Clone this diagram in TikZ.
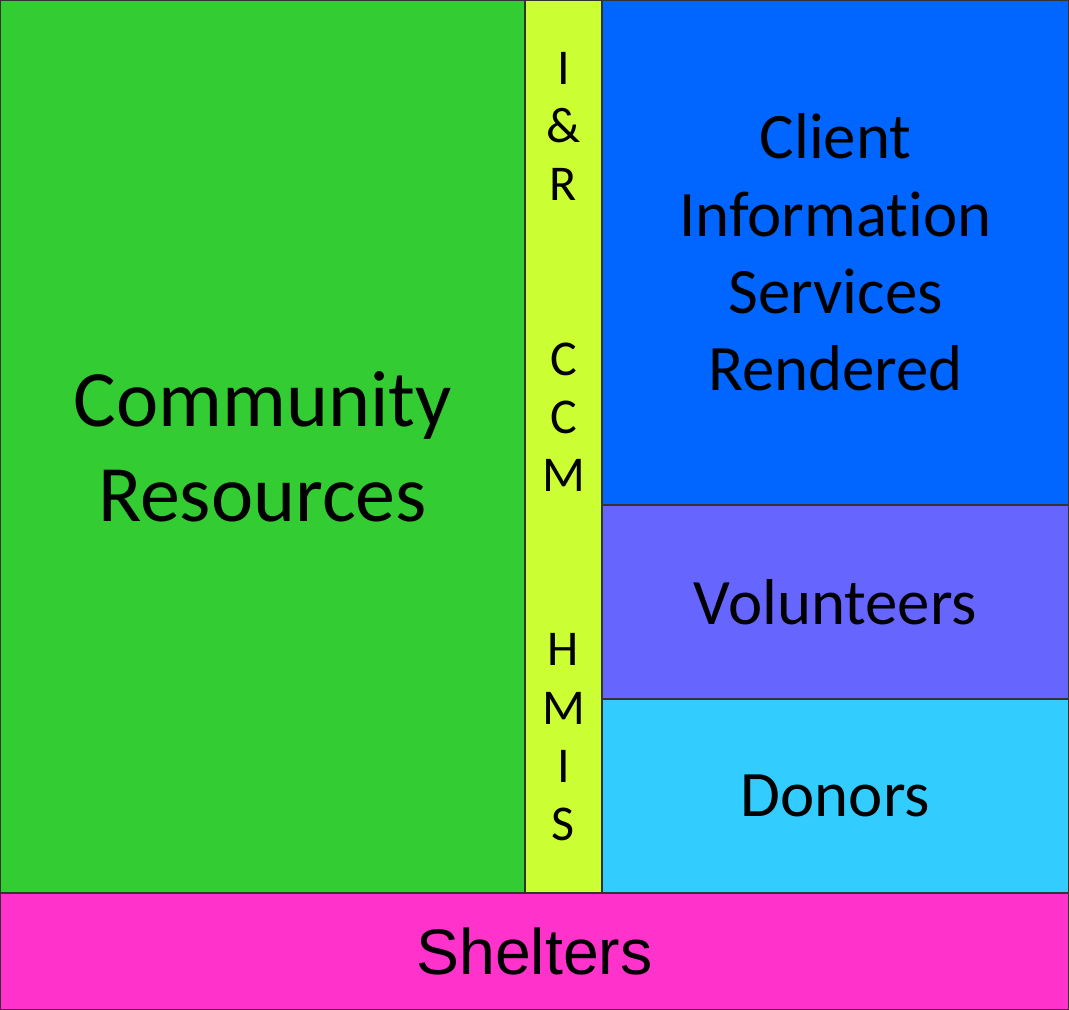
\documentclass[tikz,border=0pt]{standalone}
\usepackage{fontspec}
\setmainfont[Ligatures=NoCommon]{Carlito}
\newfontfamily\arialfont{Liberation Sans}

\definecolor{commgreen}{HTML}{33CC33}
\definecolor{striplime}{HTML}{CCFF33}
\definecolor{clientblue}{HTML}{0066FF}
\definecolor{volpurple}{HTML}{6666FF}
\definecolor{donorcyan}{HTML}{33CCFF}
\definecolor{shelterpink}{HTML}{FF33CC}

\tikzset{
  block/.style={draw=black!80, line width=0.6pt, inner sep=0pt, outer sep=0pt,
    align=center, text=black},
  bigtext/.style={font=\fontsize{45.5pt}{54pt}\selectfont},
  midtext/.style={font=\fontsize{36.9pt}{44pt}\selectfont},
  striptext/.style={font=\fontsize{28.5pt}{33.1pt}\selectfont}
}

\begin{document}
\begin{tikzpicture}
  \useasboundingbox (0,0) rectangle (21.38,-20.2);

  % left column
  \node[block, bigtext, fill=commgreen, minimum width=10.5cm, minimum height=17.86cm,
    anchor=north west] (community) at (0,0) {Community\\Resources};

  % thin strip
  \node[block, striptext, fill=striplime, minimum width=1.54cm, minimum height=17.86cm,
    anchor=north west] (strip) at (community.north east)
    {I\\\&\\R\\\mbox{}\\\mbox{}\\C\\C\\M\\\mbox{}\\\mbox{}\\H\\M\\I\\S};

  % right column
  \node[block, midtext, fill=clientblue, minimum width=9.34cm, minimum height=10.1cm,
    anchor=north west] (client) at (strip.north east)
    {Client\\Information\\Services\\Rendered};
  \node[block, midtext, fill=volpurple, minimum width=9.34cm, minimum height=3.88cm,
    anchor=north west] (volunteers) at (client.south west) {Volunteers};
  \node[block, midtext, fill=donorcyan, minimum width=9.34cm, minimum height=3.88cm,
    anchor=north west] (donors) at (volunteers.south west) {Donors};

  % bottom row
  \node[block, font=\arialfont\fontsize{36.6pt}{44pt}\selectfont,
    fill=shelterpink, minimum width=21.38cm, minimum height=2.34cm,
    anchor=north west] (shelters) at (community.south west) {Shelters};
\end{tikzpicture}
\end{document}
